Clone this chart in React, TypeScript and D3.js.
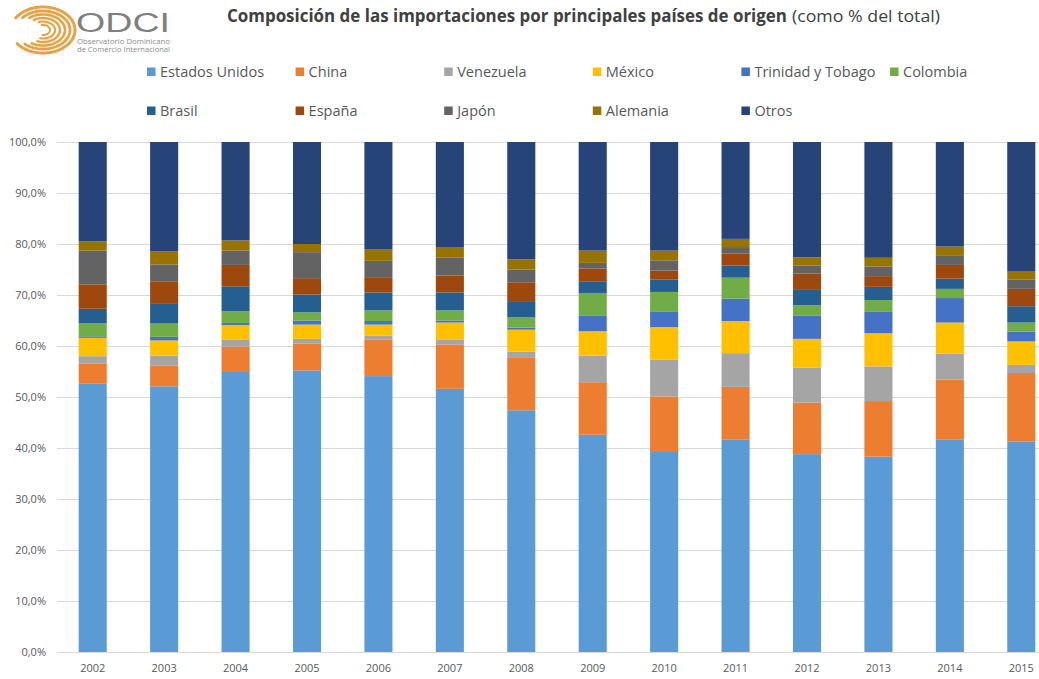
import React, {useEffect, useRef} from 'react';
import * as d3 from 'd3';

const years = ['2002', '2003', '2004', '2005', '2006', '2007', '2008', '2009', '2010', '2011', '2012', '2013', '2014', '2015'];

const countries = ['Estados Unidos', 'China', 'Venezuela', 'México', 'Trinidad y Tobago', 'Colombia', 'Brasil', 'España', 'Japón', 'Alemania', 'Otros'];

const colors = ['#5b9bd5', '#ed7d31', '#a5a5a5', '#ffc000', '#4472c4', '#70ad47', '#255e91', '#9e480e', '#636363', '#997300', '#264478'];

// values per country, one per year (% of total)
const estadosUnidos = [52.6, 52.1, 54.9, 55.2, 54.1, 51.6, 47.4, 42.6, 39.4, 41.7, 38.8, 38.3, 41.7, 41.3];
const china = [3.9, 4.1, 5.0, 5.3, 7.2, 8.7, 10.4, 10.3, 10.7, 10.3, 10.1, 10.9, 11.7, 13.4];
const venezuela = [1.5, 1.9, 1.4, 0.9, 0.7, 1.0, 1.1, 5.2, 7.2, 6.6, 6.9, 6.8, 5.1, 1.6];
const mexico = [3.6, 3.0, 2.8, 2.8, 2.2, 3.3, 4.3, 4.8, 6.4, 6.3, 5.6, 6.5, 6.1, 4.6];
const trinidad = [0.3, 0.7, 0.4, 0.8, 0.7, 0.4, 0.4, 3.0, 3.1, 4.4, 4.6, 4.3, 4.8, 1.9];
const colombia = [2.6, 2.6, 2.3, 1.6, 2.1, 2.0, 2.0, 4.5, 3.8, 4.1, 2.0, 2.2, 1.8, 1.8];
const brasil = [2.8, 4.0, 4.9, 3.5, 3.5, 3.5, 3.2, 2.3, 2.4, 2.4, 3.0, 2.6, 2.0, 3.2];
const espana = [4.8, 4.3, 4.2, 3.2, 3.0, 3.3, 3.7, 2.5, 1.8, 2.3, 3.2, 2.1, 2.7, 3.4];
const japon = [6.6, 3.3, 2.8, 5.1, 3.2, 3.5, 2.5, 1.1, 2.0, 1.3, 1.6, 1.9, 1.9, 1.8];
const alemania = [1.8, 2.6, 2.0, 1.6, 2.2, 2.1, 2.0, 2.4, 1.9, 1.6, 1.6, 1.7, 1.7, 1.7];
const otros = [19.5, 21.4, 19.3, 20.0, 21.1, 20.6, 23.0, 21.3, 21.3, 19.0, 22.6, 22.7, 20.5, 25.3];

const seriesValues = [estadosUnidos, china, venezuela, mexico, trinidad, colombia, brasil, espana, japon, alemania, otros];

const yTicks = [0, 10, 20, 30, 40, 50, 60, 70, 80, 90, 100];

const W = 1039;
const H = 679;
const margin = {top: 142, left: 57, bottom: 27};
const plotRight = 1057;

export default function App() {
  const el = useRef<SVGSVGElement>(null);

  useEffect(() => {
    const svg = d3.select(el.current);
    svg.selectAll('*').remove();

    const rows = years.map((y, i) => {
      const r: any = {year: y};
      countries.forEach((c, k) => (r[c] = seriesValues[k][i]));
      return r;
    });
    const stacked = d3.stack<any>().keys(countries)(rows);

    const x = d3.scaleBand().domain(years).range([margin.left, plotRight]).paddingInner(0.607).paddingOuter(0.3035);
    const y = d3.scaleLinear().domain([0, 100]).range([H - margin.bottom, margin.top]);

    // gridlines
    svg.append('g')
      .selectAll('line')
      .data(yTicks)
      .join('line')
      .attr('x1', margin.left)
      .attr('x2', W)
      .attr('y1', d => y(d) + 0.5)
      .attr('y2', d => y(d) + 0.5)
      .attr('stroke', '#d9d9d9')
      .attr('stroke-width', 1);

    // y labels
    svg.append('g')
      .selectAll('text')
      .data(yTicks)
      .join('text')
      .attr('x', 46)
      .attr('y', d => y(d) + 4)
      .attr('text-anchor', 'end')
      .attr('font-size', 11)
      .attr('fill', '#595959')
      .text(d => d3.format('.1f')(d).replace('.', ',') + '%');

    // bars
    svg.append('g')
      .selectAll('g')
      .data(stacked)
      .join('g')
      .attr('fill', (_d, i) => colors[i])
      .selectAll('rect')
      .data(d => d)
      .join('rect')
      .attr('x', d => x(d.data.year)!)
      .attr('width', x.bandwidth())
      .attr('y', d => y(d[1]))
      .attr('height', d => y(d[0]) - y(d[1]));

    // x labels
    svg.append('g')
      .selectAll('text')
      .data(years)
      .join('text')
      .attr('x', d => x(d)! + x.bandwidth() / 2)
      .attr('y', 672)
      .attr('text-anchor', 'middle')
      .attr('font-size', 11)
      .attr('fill', '#595959')
      .text(d => d);

    // legend
    const legendCol = d3.scaleLinear().domain([0, 5]).range([147, 890]);
    const lg = svg.append('g')
      .selectAll('g')
      .data(countries)
      .join('g')
      .attr('transform', (_d, i) => `translate(${legendCol(i % 6)},${i < 6 ? 72 : 111})`);
    lg.append('rect')
      .attr('x', 0)
      .attr('y', -4.5)
      .attr('width', 8.5)
      .attr('height', 8.5)
      .attr('fill', (_d, i) => colors[i]);
    lg.append('text')
      .attr('x', 13)
      .attr('y', 5)
      .attr('font-size', 14.5)
      .attr('fill', '#595959')
      .text(d => d);

    // title
    const title = svg.append('text')
      .attr('x', 227)
      .attr('y', 22)
      .attr('font-size', 17)
      .attr('fill', '#404040');
    title.append('tspan')
      .attr('font-weight', 'bold')
      .attr('textLength', 560)
      .attr('lengthAdjust', 'spacingAndGlyphs')
      .text('Composición de las importaciones por principales países de origen');
    title.append('tspan')
      .attr('dx', 5)
      .attr('textLength', 148)
      .attr('lengthAdjust', 'spacingAndGlyphs')
      .text('(como % del total)');

    // logo
    const logo = svg.append('g');
    const swirl = [
      {rx: 32, ry: 23, a0: 0.55, a1: 5.7, w: 3},
      {rx: 27, ry: 19, a0: 0.7, a1: 5.5, w: 2.8},
      {rx: 22, ry: 15.5, a0: 0.9, a1: 5.3, w: 2.6},
      {rx: 17, ry: 12, a0: 1.0, a1: 5.1, w: 2.4},
      {rx: 12, ry: 8.5, a0: 1.2, a1: 5.0, w: 2.2},
      {rx: 7, ry: 5, a0: 1.4, a1: 4.8, w: 2},
    ];
    swirl.forEach(s => {
      const pts = d3.range(s.a0, s.a1, 0.05).map(a => [43 + s.rx * Math.cos(a + Math.PI), 30 + s.ry * Math.sin(a + Math.PI)] as [number, number]);
      logo.append('path')
        .attr('d', d3.line()(pts))
        .attr('fill', 'none')
        .attr('stroke', '#e9a145')
        .attr('stroke-width', s.w)
        .attr('stroke-linecap', 'round');
    });
    logo.append('text')
      .attr('x', 76)
      .attr('y', 32)
      .attr('font-size', 27)
      .attr('font-family', 'Liberation Sans, Arial, sans-serif')
      .attr('fill', '#7f7f7f')
      .attr('textLength', 94)
      .attr('lengthAdjust', 'spacingAndGlyphs')
      .text('ODCI');
    logo.append('text')
      .attr('x', 77)
      .attr('y', 44)
      .attr('font-size', 6.5)
      .attr('fill', '#8c8c8c')
      .attr('textLength', 93)
      .attr('lengthAdjust', 'spacingAndGlyphs')
      .text('Observatorio Dominicano');
    logo.append('text')
      .attr('x', 77)
      .attr('y', 51.5)
      .attr('font-size', 6.5)
      .attr('fill', '#8c8c8c')
      .attr('textLength', 93)
      .attr('lengthAdjust', 'spacingAndGlyphs')
      .text('de Comercio Internacional');
  }, []);

  return (
    <svg
      ref={el}
      width={W}
      height={H}
      style={{position: 'absolute', left: 0, top: 0, background: '#fff', fontFamily: "'Open Sans', 'Noto Sans', sans-serif"}}
    />
  );
}
